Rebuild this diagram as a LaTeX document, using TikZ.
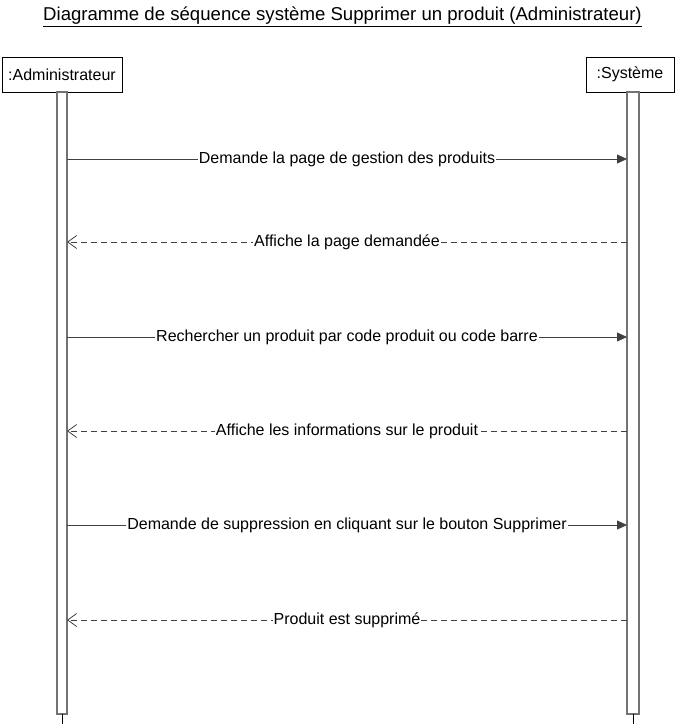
\documentclass[tikz,border=0pt]{standalone}
\usepackage{fontspec}
\setmainfont{Liberation Sans}
\usetikzlibrary{arrows.meta}
\tikzset{
  actor/.style={draw=black, line width=0.8pt, fill=white, inner sep=0pt, font=\fontsize{16}{18}\selectfont},
  bar/.style={draw=black!55, line width=1.2pt, fill=white},
  call/.style={draw=black!75, line width=0.8pt, -{Triangle[length=10pt,width=9pt]}},
  reply/.style={draw=black!75, line width=0.8pt, dash pattern=on 6pt off 4pt, -{Straight Barb[length=9pt,width=13pt,line width=0.8pt]}},
  msg/.style={fill=white, inner sep=1pt, font=\fontsize{16}{18}\selectfont, text=black},
}
\begin{document}
\begin{tikzpicture}[x=1pt,y=-1pt]
\useasboundingbox[fill=white] (0,0) rectangle (678,727);
\node[font=\fontsize{18.6}{21}\selectfont] (title) at (342.5,17) {\underline{Diagramme de séquence système Supprimer un produit (Administrateur)}};
\node[actor, minimum width=120pt, minimum height=35pt] (adm) at (62,74.5) {:Administrateur};
\node[actor, minimum width=88pt, minimum height=35pt] (sys) at (630,74.5) {:Système};
\draw[bar] (57,92) rectangle (67,714);
\draw[bar] (627,92) rectangle (639,714);
\coordinate (abot) at (62,714); \coordinate (aend) at (62,724);
\coordinate (sbot) at (633,714); \coordinate (send) at (633,724);
\draw[black, line width=0.8pt] (abot) -- (aend);
\draw[black, line width=0.8pt] (sbot) -- (send);
\foreach \n/\y in {1/159,2/242,3/337,4/431,5/525,6/620}{
  \coordinate (a\n) at (67,\y);
  \coordinate (s\n) at (627,\y);
}
\draw[call] (a1) -- node[msg] {Demande la page de gestion des produits} (s1);
\draw[reply] (s2) -- node[msg] {Affiche la page demandée} (a2);
\draw[call] (a3) -- node[msg] {Rechercher un produit par code produit ou code barre} (s3);
\draw[reply] (s4) -- node[msg] {Affiche les informations sur le produit} (a4);
\draw[call] (a5) -- node[msg] {Demande de suppression en cliquant sur le bouton Supprimer} (s5);
\draw[reply] (s6) -- node[msg] {Produit est supprimé} (a6);
\end{tikzpicture}
\end{document}
